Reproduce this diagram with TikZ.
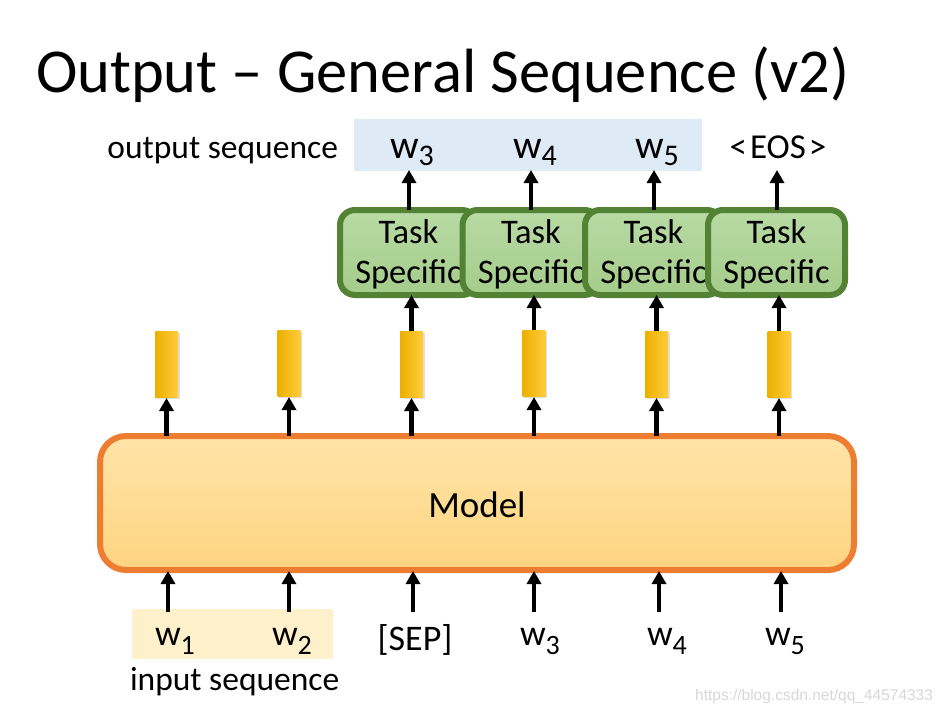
\documentclass[tikz,border=0pt]{standalone}
\usepackage{fontspec}
\setmainfont{Carlito}
\newfontfamily\wmfont{Liberation Sans}
\usetikzlibrary{arrows.meta,shadows}
\definecolor{mdlborder}{RGB}{237,125,49}
\definecolor{mdltop}{RGB}{255,228,168}
\definecolor{mdlbot}{RGB}{255,212,128}
\definecolor{tskborder}{RGB}{84,130,53}
\definecolor{tsktop}{RGB}{184,218,164}
\definecolor{tskbot}{RGB}{164,204,138}
\definecolor{barleft}{RGB}{236,176,0}
\definecolor{barright}{RGB}{255,204,60}
\definecolor{outbg}{RGB}{222,234,246}
\definecolor{inbg}{RGB}{255,240,204}
\definecolor{wmgray}{RGB}{215,215,215}
\newcommand\fsTitle{\fontsize{62.5}{70}\selectfont}
\newcommand\fsTask{\fontsize{34.5}{40}\selectfont}
\newcommand\fsLab{\fontsize{33.5}{40}\selectfont}
\newcommand\wtop[1]{\fontsize{40}{44}\selectfont w\raisebox{-7pt}{\fontsize{30}{30}\selectfont #1}}
\newcommand\wbot[1]{\fontsize{36}{40}\selectfont w\raisebox{-9pt}{\fontsize{28}{28}\selectfont #1}}
\begin{document}
\begin{tikzpicture}[x=1pt,y=-1pt,
  every node/.style={inner sep=0pt,outer sep=0pt},
  arr/.style={line width=4.8pt,-{Triangle[width=14pt,length=13pt]}},
  model/.style={draw=mdlborder,line width=6pt,rounded corners=26pt,
    top color=mdltop,bottom color=mdlbot,minimum width=754pt,minimum height=134pt},
  taskbox/.style={draw=tskborder,line width=6pt,rounded corners=15pt,
    top color=tsktop,bottom color=tskbot,minimum width=137pt,minimum height=85pt},
  tasktext/.style={anchor=base,font=\fsTask},
  vecbar/.style={left color=barleft,right color=barright,minimum width=23pt,minimum height=66pt,
    drop shadow={shadow xshift=1.5pt,shadow yshift=-1.5pt,opacity=0.25}},
  seqbg/.style={minimum width=#1,minimum height=52pt},
  lab/.style={anchor=base west},
]
\useasboundingbox (0,0) rectangle (942,713);

% title
\node[anchor=base west,font=\fsTitle] (title) at (36,92) {Output -- General Sequence (v2)};

% output sequence
\node[seqbg=348pt,fill=outbg,anchor=north west] (outbg) at (354,119) {};
\node[anchor=base east,font=\fsLab] (outlab) at (338,158) {output sequence};
\node[lab] (o3) at (390,158) {\wtop{3}};
\node[lab] (o4) at (513,158) {\wtop{4}};
\node[lab] (o5) at (635,158) {\wtop{5}};
\node[anchor=base,font=\fontsize{35}{38}\selectfont] (eos) at (778,158) {<\kern3pt EOS\kern3pt>};

% task specific boxes (each drawn over the previous)
\node[taskbox] (t1) at (408.5,252.5) {};
\node[tasktext] (t1a) at (408.5,243) {Task};
\node[tasktext] (t1b) at (408.5,283) {Specific};
\node[taskbox] (t2) at (531,252.5) {};
\node[tasktext] (t2a) at (531,243) {Task};
\node[tasktext] (t2b) at (531,283) {Specific};
\node[taskbox] (t3) at (653.5,252.5) {};
\node[tasktext] (t3a) at (653.5,243) {Task};
\node[tasktext] (t3b) at (653.5,283) {Specific};
\node[taskbox] (t4) at (776.5,252.5) {};
\node[tasktext] (t4a) at (776.5,243) {Task};
\node[tasktext] (t4b) at (776.5,283) {Specific};

% arrows task -> outputs
\coordinate (h3) at (409,170);
\coordinate (h4) at (531,170);
\coordinate (h5) at (654,170);
\coordinate (h6) at (777,170);
\draw[arr] (t1.north -| h3) -- (h3);
\draw[arr] (t2.north -| h4) -- (h4);
\draw[arr] (t3.north -| h5) -- (h5);
\draw[arr] (t4.north -| h6) -- (h6);

% model
\node[model] (model) at (477,503) {};
\node[anchor=base,font=\fontsize{37}{40}\selectfont] (mtext) at (477,517) {Model};

% vectors
\node[vecbar] (b1) at (166.5,364) {};
\node[vecbar] (b2) at (289,363) {};
\node[vecbar] (b3) at (411.5,364) {};
\node[vecbar] (b4) at (534,363) {};
\node[vecbar] (b5) at (656.5,364) {};
\node[vecbar] (b6) at (779,364) {};

\foreach \b in {b1,b2,b3,b4,b5,b6}{
  \draw[arr] (\b.south |- model.north) -- ([yshift=-1pt]\b.south);
}
\draw[arr] (b3.north) -- (b3.north |- t1.south);
\draw[arr] (b4.north) -- (b4.north |- t2.south);
\draw[arr] (b5.north) -- (b5.north |- t3.south);
\draw[arr] (b6.north) -- (b6.north |- t4.south);

% input sequence
\node[seqbg=201pt,fill=inbg,anchor=north west,minimum height=50pt] (inbg) at (132,609) {};
\node[lab] (i1) at (155,645) {\wbot{1}};
\node[lab] (i2) at (272,645) {\wbot{2}};
\node[anchor=base,font=\fontsize{36}{40}\selectfont] (sep) at (415,650) {[SEP]};
\node[lab] (i3) at (520,645) {\wbot{3}};
\node[lab] (i4) at (647,645) {\wbot{4}};
\node[lab] (i5) at (765,645) {\wbot{5}};
\node[anchor=base west,font=\fsLab] (inlab) at (130,690) {input sequence};

\coordinate (u1) at (168,612);
\coordinate (u2) at (289,612);
\coordinate (u3) at (413,612);
\coordinate (u4) at (534,612);
\coordinate (u5) at (659,612);
\coordinate (u6) at (781,612);
\foreach \u in {u1,u2,u3,u4,u5,u6}{
  \draw[arr] (\u) -- ([yshift=-1pt]\u |- model.south);
}

% watermark
\node[anchor=base east,font=\wmfont\fontsize{15.5}{18}\selectfont,text=wmgray] (wm) at (933,700) {https://blog.csdn.net/qq\_44574333};
\end{tikzpicture}
\end{document}
